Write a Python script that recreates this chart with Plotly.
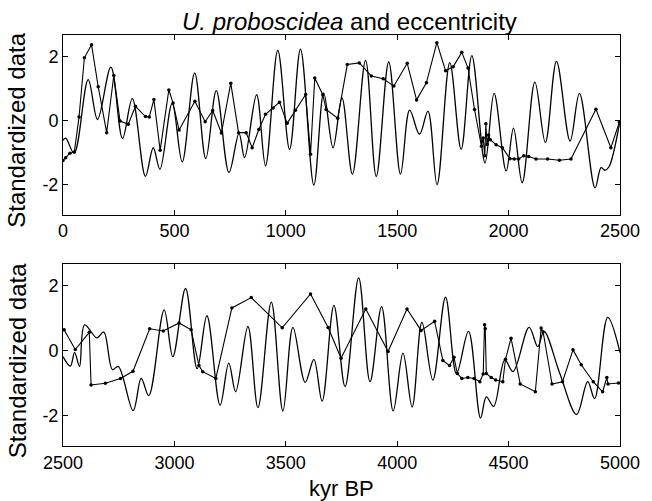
import plotly.graph_objects as go
from plotly.subplots import make_subplots

# ---- data: top panel (0-2500 kyr) ----
top_ecc_x = [0, 12, 50, 113, 155, 215, 267, 311, 370, 405, 435, 490, 535, 591, 641,
             688, 745, 790, 815, 869, 909, 964, 1017, 1066, 1126, 1170, 1212, 1252, 1299, 1358,
             1406, 1462, 1515, 1556, 1600, 1638, 1679, 1736, 1787, 1835, 1894, 1935, 1989, 2022, 2061,
             2118, 2165, 2215, 2276, 2318, 2388, 2415, 2432, 2450, 2500]
top_ecc_y = [-0.62, -0.55, -1.02, 1.27, 0.03, 1.66, -0.56, 0.68, -1.74, -0.85, -1.52, 0.53, -1.29, 1.48, -1.19,
             0.93, -1.62, -0.4, -1.16, 0.80, -1.41, 2.18, -0.9, 2.22, -2.01, 0.86, -0.85, 0.7, -1.67, 1.87,
             -1.74, 1.82, -1.67, 0.32, -0.43, 0.29, -2.0, 1.8, -0.9, 2.02, -1.32, 0.84, -1.57, -0.24, -1.94,
             1.19, -0.69, 1.84, -0.64, 0.84, -2.1, -1.47, -1.55, -1.45, 0.0]

top_up_x = [0, 12, 31, 51, 72, 96, 128, 158, 196, 228, 256, 293, 325, 370, 387, 408, 436, 475, 494, 521,
            592, 638, 672, 711, 753, 788, 822, 849, 879, 909, 943, 972, 1006, 1043, 1089, 1111, 1130, 1166, 1181, 1233,
            1276, 1330, 1384, 1437, 1485, 1545, 1587, 1631, 1678, 1717, 1751, 1790, 1818, 1847, 1878, 1886, 1893, 1898,
            1903, 1910, 1918, 1944, 1972, 2006, 2025, 2045, 2068, 2090, 2123, 2175, 2228, 2280, 2392, 2459, 2497]
top_up_y = [-1.25, -1.16, -1.02, -0.98, 0.11, 1.95, 2.36, 1.05, -0.38, 1.4, -0.02, -0.12, 0.44, 0.12, 0.11, 0.65, -0.93, 0.95, 0.54, -0.3,
            0.6, -0.04, 0.31, -0.39, 1.16, -0.38, -0.38, -0.85, -0.28, 0.19, 0.39, 0.57, -0.09, 0.32, 0.81, -1.05, 1.32, 0.8, 0.34, 0.07,
            1.74, 1.79, 1.38, 1.3, 1.07, 1.78, 0.64, 1.17, 2.42, 1.55, 1.67, 2.12, 1.63, 0.34, -0.8, -0.55, -1.1, -0.1,
            -0.75, -0.45, -0.6, -0.76, -0.85, -1.19, -1.2, -1.2, -1.1, -1.12, -1.2, -1.2, -1.24, -1.2, 0.35, -0.85, -0.05]

# ---- data: bottom panel (2500-5000 kyr) ----
bot_ecc_x = [2500, 2533, 2552, 2574, 2597, 2652, 2683, 2722, 2748, 2815, 2851, 2885, 2954, 2993, 3050,
             3102, 3146, 3205, 3244, 3275, 3330, 3375, 3435, 3487, 3532, 3587, 3626, 3663, 3716, 3766,
             3827, 3878, 3930, 3982, 4026, 4067, 4111, 4160, 4217, 4266, 4320, 4374, 4400, 4433, 4483,
             4520, 4592, 4631, 4659, 4730, 4805, 4855, 4886, 4945, 5000]
bot_ecc_y = [-0.18, -0.47, -0.05, -0.48, 0.8, 0.4, 0.58, -0.58, -0.48, -1.84, -0.85, -1.38, 1.26, -0.18, 1.92,
             -0.55, 1.08, -1.67, -0.38, -1.26, 0.75, -1.75, 1.5, -1.85, 0.72, -0.97, -0.26, -1.55, 1.4, -1.1,
             2.25, -0.95, 1.36, -1.85, -0.07, -1.73, 0.88, -0.9, 1.65, -0.7, 0.6, -2.07, -1.42, -1.71, -0.28,
             -0.64, 0.72, 0.13, 0.6, -0.7, -1.96, -0.95, -1.47, 1.03, -0.05]

bot_up_x = [2505, 2555, 2618, 2626, 2690, 2758, 2814, 2889, 2950, 3021, 3075, 3110, 3127, 3186, 3258, 3345,
            3484, 3611, 3690, 3748, 3859, 3959, 4044, 4107, 4168, 4205, 4235, 4255, 4270, 4290, 4317, 4345,
            4371, 4386, 4392, 4395, 4400, 4422, 4442, 4474, 4486, 4511, 4552, 4620, 4646, 4655, 4695, 4742,
            4789, 4826, 4880, 4922, 4941, 4946, 4993]
bot_up_y = [0.65, 0.04, 0.57, -1.05, -1.0, -0.85, -0.63, 0.68, 0.61, 0.86, 0.65, -0.45, -0.64, -0.85, 1.32, 1.64,
            0.71, 1.75, 0.72, -0.23, 1.29, -0.02, 1.29, 0.63, 0.91, -0.3, -0.45, -0.2, -0.7, -0.85, -0.82, -0.85,
            -0.95, -0.71, 0.8, 0.68, -0.7, -0.82, -0.9, -0.95, -0.26, 0.39, -1.02, -1.26, 0.7, 0.58, -1.02, -0.95,
            0.03, -0.43, -0.95, -1.26, -0.82, -1.02, -0.99]

# ---- tick labels / texts ----
top_xticks = [0, 500, 1000, 1500, 2000, 2500]
bot_xticks = [2500, 3000, 3500, 4000, 4500, 5000]
y_tickvals = [-2, 0, 2]
y_ticktext = ["-2", "0", "2"]
title_text = "<i>U. proboscidea</i> and eccentricity"
ylabel_text = "Standardized data"
xlabel_text = "kyr BP"

FONT = "Liberation Sans, Arial, Helvetica, sans-serif"
W, H = 652, 501
ML, MR, MT, MB = 63, 32, 35, 55

fig = make_subplots(rows=2, cols=1, vertical_spacing=0.12)

ecc_style = dict(mode="lines", line=dict(color="black", width=1.3, shape="spline", smoothing=1.0),
                 showlegend=False, hoverinfo="skip")
up_style = dict(mode="lines+markers", line=dict(color="black", width=1.1),
                marker=dict(color="black", size=3.5), showlegend=False, hoverinfo="skip")

fig.add_trace(go.Scatter(x=top_ecc_x, y=top_ecc_y, **ecc_style), row=1, col=1)
fig.add_trace(go.Scatter(x=top_up_x, y=top_up_y, **up_style), row=1, col=1)
fig.add_trace(go.Scatter(x=bot_ecc_x, y=bot_ecc_y, **ecc_style), row=2, col=1)
fig.add_trace(go.Scatter(x=bot_up_x, y=bot_up_y, **up_style), row=2, col=1)

axis_common = dict(showline=True, linecolor="black", linewidth=1, mirror="ticks",
                   ticks="inside", ticklen=5, tickcolor="black", showgrid=False, zeroline=False,
                   tickfont=dict(family=FONT, size=18, color="black"))

fig.update_xaxes(range=[0, 2500], tickvals=top_xticks, row=1, col=1, **axis_common)
fig.update_xaxes(range=[2500, 5000], tickvals=bot_xticks, row=2, col=1, **axis_common)
for r in (1, 2):
    fig.update_yaxes(range=[-2.93, 2.66], tickvals=y_tickvals, ticktext=y_ticktext,
                     row=r, col=1, **axis_common)

top_dom = [0.5631, 1.0]
bot_dom = [0.0, 0.4417]
fig.layout.yaxis.domain = top_dom
fig.layout.yaxis2.domain = bot_dom

annos = []
for dom in (top_dom, bot_dom):
    annos.append(dict(text=ylabel_text, textangle=-90, xref="paper", yref="paper",
                      x=0, xanchor="center", xshift=-(ML - 17),
                      y=(dom[0] + dom[1]) / 2, yanchor="middle", yshift=-6,
                      showarrow=False, font=dict(family=FONT, size=24, color="black")))
annos.append(dict(text=xlabel_text, xref="paper", yref="paper", x=0.5, xanchor="center",
                  y=0, yanchor="middle", yshift=-42, showarrow=False,
                  font=dict(family=FONT, size=22, color="black")))
annos.append(dict(text=title_text, xref="paper", yref="paper", x=(349 - ML) / (W - ML - MR),
                  xanchor="center", y=1, yanchor="middle", yshift=14, showarrow=False,
                  font=dict(family=FONT, size=24, color="black")))

fig.update_layout(
    width=W, height=H,
    margin=dict(l=ML, r=MR, t=MT, b=MB),
    paper_bgcolor="white", plot_bgcolor="white",
    annotations=annos,
)

fig.write_html("out.html")
